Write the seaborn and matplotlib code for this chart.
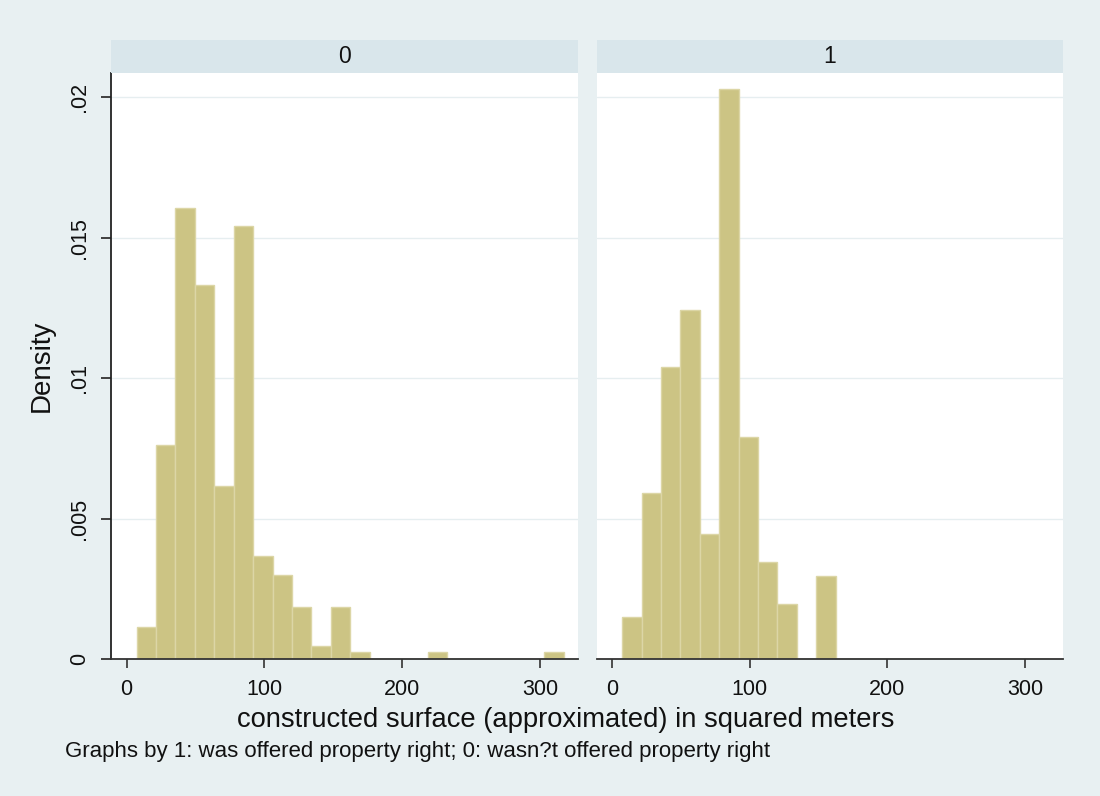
import numpy as np
import pandas as pd
import matplotlib
matplotlib.use("Agg")
import matplotlib.pyplot as plt
from matplotlib.patches import Rectangle
import seaborn as sns

# ---- data ----
bin_start = 7.3
bin_width = 14.09
n_bins = 22
groups = ["0", "1"]
density_0 = [0.00115, 0.00760, 0.01606, 0.01331, 0.00617, 0.01540, 0.00368, 0.00300,
             0.00186, 0.00045, 0.00186, 0.00024, 0.0, 0.0, 0.0, 0.00024,
             0.0, 0.0, 0.0, 0.0, 0.0, 0.00024]
density_1 = [0.00148, 0.00591, 0.01039, 0.01241, 0.00446, 0.02028, 0.00790, 0.00347,
             0.00197, 0.0, 0.00294, 0.0, 0.0, 0.0, 0.0, 0.0,
             0.0, 0.0, 0.0, 0.0, 0.0, 0.0]
x_ticks = [0, 100, 200, 300]
y_ticks = [0, 0.005, 0.01, 0.015, 0.02]
y_ticklabels = ["0", ".005", ".01", ".015", ".02"]
x_title = "constructed surface (approximated) in squared meters"
y_title = "Density"
note = "Graphs by 1: was offered property right; 0: wasn?t offered property right"

edges = [float(bin_start + bin_width * k) for k in range(n_bins + 1)]
centers = [(edges[k] + edges[k + 1]) / 2 for k in range(n_bins)]
df = pd.concat([
    pd.DataFrame({"x": centers, "w": density_0, "g": "0"}),
    pd.DataFrame({"x": centers, "w": density_1, "g": "1"}),
], ignore_index=True)

sns.set_theme(style="white")
plt.rcParams["font.family"] = ["Liberation Sans", "DejaVu Sans"]

BG = "#E8F0F2"
STRIP = "#D9E6EB"
BAR = "#CCC484"
BAR_EDGE = "#DCD6A6"
GRID = "#E6EEF0"
TXT = "#111111"

W, H = 1100, 796
fig = plt.figure(figsize=(W / 100, H / 100), dpi=100, facecolor=BG)

def fx(px):
    return px / W

def fy(py):
    return 1 - py / H

top_px, bot_px = 73.5, 659
panels = [(111, 578), (596.5, 1063)]
strip_h_px = 33

for i, (g, (x0, x1)) in enumerate(zip(groups, panels)):
    ax = fig.add_axes([fx(x0), fy(bot_px), (x1 - x0) / W, (bot_px - top_px) / H])
    ax.set_facecolor("white")
    sub = df[df["g"] == g].reset_index(drop=True)
    sns.histplot(data=sub, x="x", weights="w", bins=edges, stat="count",
                 color=BAR, edgecolor=BAR_EDGE, linewidth=1.0, alpha=1.0, ax=ax)
    ax.set_xlim(-11.3, 327.5)
    ax.set_ylim(0, 0.02084)
    ax.set_yticks(y_ticks)
    for yv in y_ticks:
        ax.axhline(yv, color=GRID, lw=1.0, zorder=0)
    ax.set_axisbelow(True)
    ax.set_xticks(x_ticks)
    ax.set_xticklabels([str(t) for t in x_ticks], fontsize=15.5, color=TXT)
    ax.tick_params(axis="x", direction="out", length=6.5, width=1.2, color="#333333", pad=8, bottom=True)
    ax.set_xlabel("")
    ax.set_ylabel("")
    for s in ["top", "right"]:
        ax.spines[s].set_visible(False)
    ax.spines["bottom"].set_color("#333333")
    ax.spines["bottom"].set_linewidth(1.3)
    if i == 0:
        ax.set_yticklabels(y_ticklabels, fontsize=15.5, color=TXT, rotation=90, va="center")
        ax.tick_params(axis="y", direction="out", length=7, width=1.2, color="#222222", pad=8, left=True)
        ax.spines["left"].set_color("#222222")
        ax.spines["left"].set_linewidth(1.3)
    else:
        ax.spines["left"].set_visible(False)
        ax.tick_params(axis="y", left=False, labelleft=False)
    # strip
    sh = strip_h_px / (bot_px - top_px)
    ax.add_patch(Rectangle((0, 1), 1, sh, transform=ax.transAxes, facecolor=STRIP,
                           edgecolor="none", clip_on=False, zorder=3))
    ax.text(0.5, 1 + sh / 2, g, transform=ax.transAxes, ha="center", va="center",
            fontsize=16.5, color=TXT)

fig.text(fx(42), fy(366), y_title, rotation=90, ha="center", va="center", fontsize=20, color=TXT)
fig.text(fx(566), fy(720), x_title, ha="center", va="center", fontsize=19.7, color=TXT)
fig.text(fx(65), fy(752), note, ha="left", va="center", fontsize=16, color=TXT)

fig.savefig("out.png", dpi=100, facecolor=BG)
